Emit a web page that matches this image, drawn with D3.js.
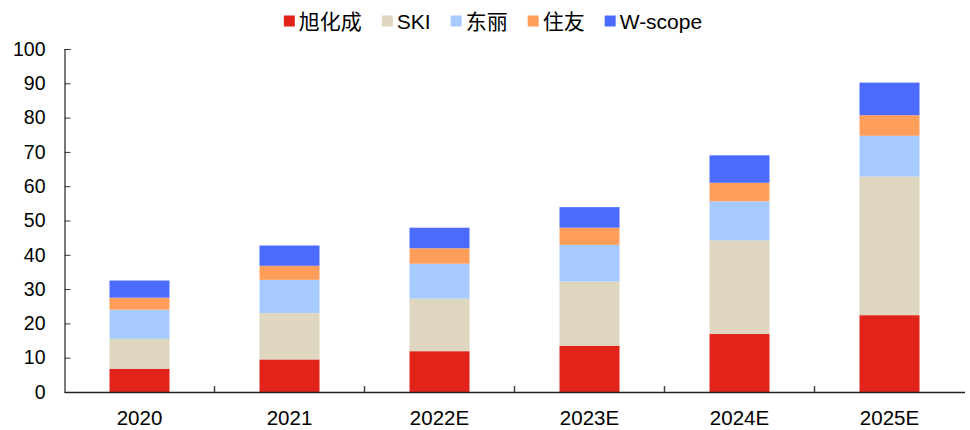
<!DOCTYPE html>
<html>
<head>
<meta charset="utf-8">
<script src="https://cdn.jsdelivr.net/npm/d3@7"></script>
<style>
  html, body { margin: 0; padding: 0; background: #fff; }
  svg { display: block; }
  text { font-family: "Liberation Sans", Arial, "Noto Sans CJK SC", sans-serif; fill: #000; }
</style>
</head>
<body>
<svg id="chart" width="970" height="430"></svg>
<script>
const categories = ["2020", "2021", "2022E", "2023E", "2024E", "2025E"];
const seriesNames = ["旭化成", "SKI", "东丽", "住友", "W-scope"];
const asahi   = [6.8, 9.5, 11.9, 13.5, 16.9, 22.4];
const ski     = [8.7, 13.5, 15.3, 18.7, 27.3, 40.4];
const toray   = [8.5, 9.7, 10.2, 10.7, 11.4, 11.9];
const sumitomo= [3.5, 4.1, 4.5, 5.0, 5.4, 6.0];
const wscope  = [5.0, 5.9, 6.0, 6.0, 8.0, 9.5];
const yTicks  = [0, 10, 20, 30, 40, 50, 60, 70, 80, 90, 100];
const colors  = ["#E2231A", "#DFD6C0", "#A7CBFF", "#FF9E5B", "#4B6BFF"];

const seriesValues = [asahi, ski, toray, sumitomo, wscope];
const table = categories.map((c, i) => {
  const row = { cat: c };
  seriesNames.forEach((s, j) => row[s] = seriesValues[j][i]);
  return row;
});

const svg = d3.select("#chart");
const margin = { left: 64.5, right: 5.5, top: 49, bottom: 38 };
const W = 970, H = 430;

const x = d3.scaleBand().domain(categories)
  .range([margin.left, W - margin.right])
  .paddingInner(0.6).paddingOuter(0.3);
const y = d3.scaleLinear().domain([0, 100]).range([H - margin.bottom, margin.top]);

const stack = d3.stack().keys(seriesNames);
const stacked = stack(table);

svg.append("g").selectAll("g").data(stacked).join("g")
  .attr("fill", (d, i) => colors[i])
  .selectAll("rect").data(d => d).join("rect")
  .attr("x", d => x(d.data.cat))
  .attr("width", x.bandwidth())
  .attr("y", d => y(d[1]))
  .attr("height", d => y(d[0]) - y(d[1]));

// Y axis
const yAxis = d3.axisLeft(y).tickValues(yTicks).tickSizeInner(-6).tickSizeOuter(-6).tickPadding(19);
const gy = svg.append("g").attr("transform", `translate(${margin.left},0)`).call(yAxis);
gy.select(".domain").attr("stroke", "#222").attr("stroke-width", 1.2);
gy.selectAll(".tick line").attr("stroke", "#333");
gy.selectAll(".tick text").attr("font-size", "19.5px").attr("fill", "#000")
  .attr("font-family", "'Liberation Sans', Arial, sans-serif");

// X axis
const xAxis = d3.axisBottom(x).tickSize(0).tickPadding(18);
const gx = svg.append("g").attr("transform", `translate(0,${H - margin.bottom})`).call(xAxis);
gx.select(".domain").attr("stroke", "#222").attr("stroke-width", 1.5);
gx.selectAll(".tick text").attr("font-size", "20.5px").attr("fill", "#000")
  .attr("font-family", "'Liberation Sans', Arial, sans-serif");
// category boundary ticks
const step = x.step();
const boundaries = categories.slice(1).map(c => x(c) - (step - x.bandwidth()) / 2);
gx.selectAll(".bnd").data(boundaries).join("line").attr("class", "bnd")
  .attr("x1", d => d).attr("x2", d => d).attr("y1", 0).attr("y2", -6)
  .attr("stroke", "#444").attr("stroke-width", 1.5);

// Legend
const legend = svg.append("g").attr("class", "legend");
const fs = 21;
let cx = 0;
seriesNames.forEach((s, i) => {
  const g = legend.append("g");
  g.append("rect").attr("x", 0).attr("y", -5.5).attr("width", 11).attr("height", 11).attr("fill", colors[i]);
  const t = g.append("text").attr("x", 15).attr("y", 0).attr("dy", "0.36em")
    .attr("font-size", fs + "px").text(s);
  const w = 15 + t.node().getComputedTextLength();
  g.attr("transform", `translate(${cx},0)`);
  cx += w + 20;
});
const totalW = cx - 20;
legend.attr("transform", `translate(${(W - totalW) / 2 + 8},21)`);
</script>
</body>
</html>
